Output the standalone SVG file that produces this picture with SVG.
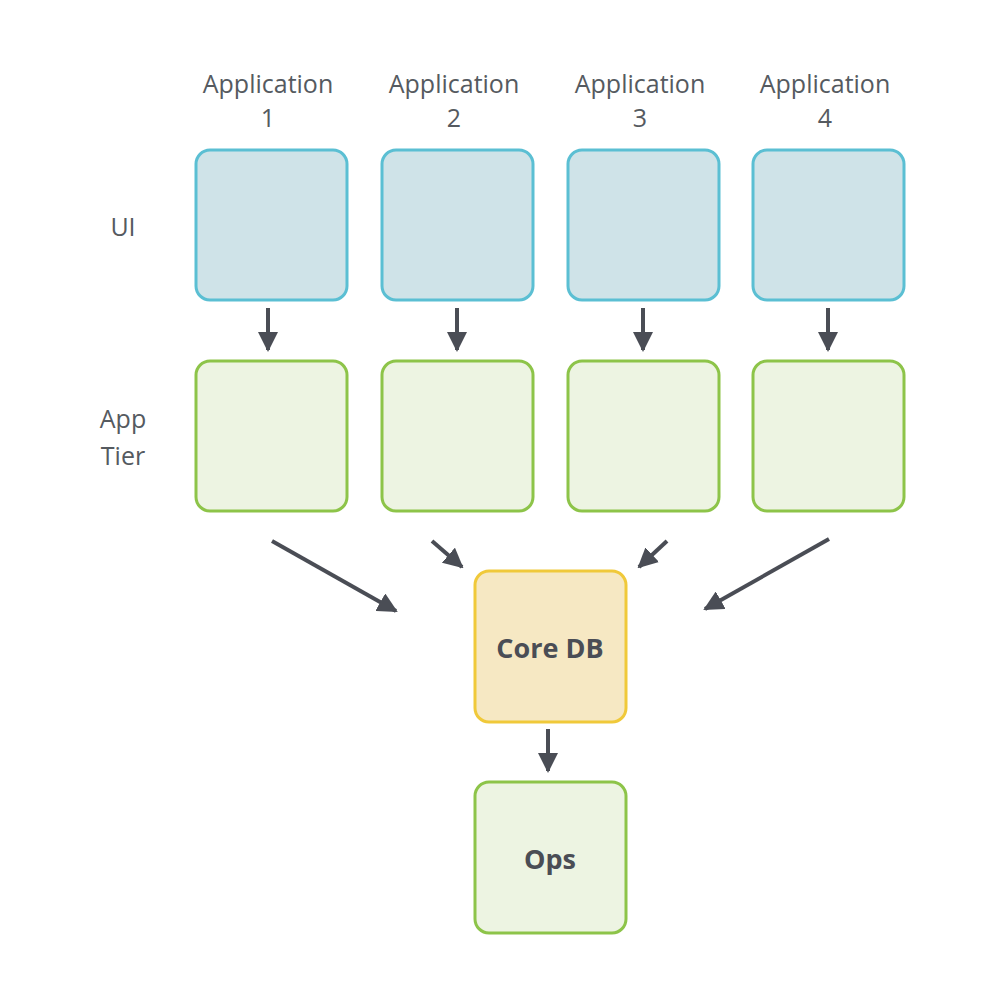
<svg xmlns="http://www.w3.org/2000/svg" width="1000" height="1000" viewBox="0 0 1000 1000">
<style>
.ui{fill:#cfe3e8;stroke:#5bbfd3;stroke-width:3}
.gr{fill:#edf4e2;stroke:#8dc449;stroke-width:3}
.db{fill:#f6e8c3;stroke:#f0c93a;stroke-width:3}
.t{font-family:"Open Sans","DejaVu Sans",sans-serif;font-size:25px;fill:#555a60;text-anchor:middle}
.b{font-family:"Open Sans","DejaVu Sans",sans-serif;font-size:27px;font-weight:bold;fill:#4a4d55;text-anchor:middle}
.c line{stroke:#4a4d55;stroke-width:4}
</style>
<defs><marker id="a" viewBox="0 0 10 10" refX="9" refY="5" markerWidth="5" markerHeight="5" orient="auto" markerUnits="strokeWidth"><path d="M0,0L10,5L0,10z" fill="#4a4d55"/></marker></defs>
<g id="labels">
<text class="t" x="268" y="93">Application</text><text class="t" x="268" y="127">1</text>
<text class="t" x="454" y="93">Application</text><text class="t" x="454" y="127">2</text>
<text class="t" x="640" y="93">Application</text><text class="t" x="640" y="127">3</text>
<text class="t" x="825" y="93">Application</text><text class="t" x="825" y="127">4</text>
<text class="t" x="123" y="236">UI</text>
<text class="t" x="123" y="428">App</text><text class="t" x="123" y="465">Tier</text>
</g>
<g id="ui1"><rect class="ui" x="196" y="150" width="151" height="150" rx="14"/></g>
<g id="ui2"><rect class="ui" x="382" y="150" width="151" height="150" rx="14"/></g>
<g id="ui3"><rect class="ui" x="568" y="150" width="151" height="150" rx="14"/></g>
<g id="ui4"><rect class="ui" x="753" y="150" width="151" height="150" rx="14"/></g>
<g id="app1"><rect class="gr" x="196" y="361" width="151" height="150" rx="14"/></g>
<g id="app2"><rect class="gr" x="382" y="361" width="151" height="150" rx="14"/></g>
<g id="app3"><rect class="gr" x="568" y="361" width="151" height="150" rx="14"/></g>
<g id="app4"><rect class="gr" x="753" y="361" width="151" height="150" rx="14"/></g>
<g id="coredb"><rect class="db" x="475" y="571" width="151" height="151" rx="14"/><text class="b" x="550" y="658">Core DB</text></g>
<g id="ops"><rect class="gr" x="475" y="782" width="151" height="151" rx="14"/><text class="b" x="550" y="869">Ops</text></g>
<g class="c" id="connectors">
<line x1="268" y1="308" x2="268" y2="350" marker-end="url(#a)"/>
<line x1="457" y1="308" x2="457" y2="350" marker-end="url(#a)"/>
<line x1="643" y1="308" x2="643" y2="350" marker-end="url(#a)"/>
<line x1="828" y1="308" x2="828" y2="350" marker-end="url(#a)"/>
<line x1="272" y1="541" x2="396" y2="611" marker-end="url(#a)"/>
<line x1="432" y1="541" x2="462" y2="567" marker-end="url(#a)"/>
<line x1="667" y1="541" x2="639" y2="567" marker-end="url(#a)"/>
<line x1="829" y1="539" x2="705" y2="609" marker-end="url(#a)"/>
<line x1="548" y1="729" x2="548" y2="771" marker-end="url(#a)"/>
</g>
</svg>
